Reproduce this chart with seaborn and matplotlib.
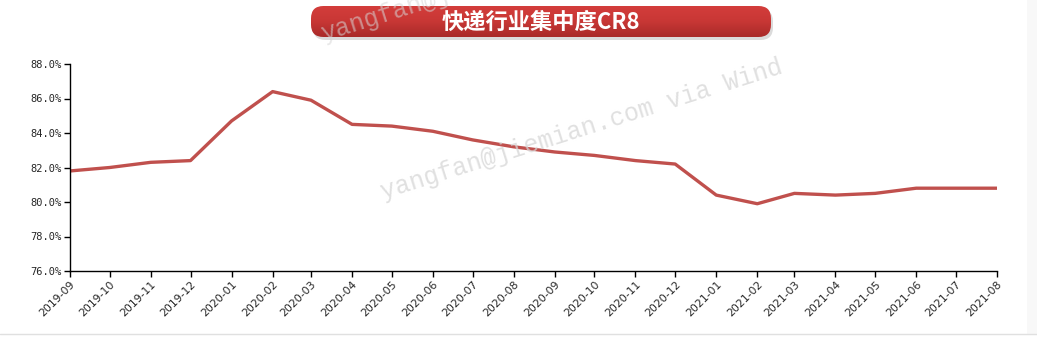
import numpy as np
import pandas as pd
import matplotlib
matplotlib.use("Agg")
import matplotlib.pyplot as plt
import matplotlib.dates as mdates
from matplotlib.patches import FancyBboxPatch, Rectangle
from matplotlib.ticker import FuncFormatter
from matplotlib.colors import LinearSegmentedColormap
import seaborn as sns

# ---- data ----
months = ["2019-09", "2019-10", "2019-11", "2019-12", "2020-01", "2020-02",
          "2020-03", "2020-04", "2020-05", "2020-06", "2020-07", "2020-08",
          "2020-09", "2020-10", "2020-11", "2020-12", "2021-01", "2021-02",
          "2021-03", "2021-04", "2021-05", "2021-06", "2021-07", "2021-08"]
cr8 = [81.8, 82.0, 82.3, 82.4, 84.7, 86.4,
       85.9, 84.5, 84.4, 84.1, 83.6, 83.2,
       82.9, 82.7, 82.4, 82.2, 80.4, 79.9,
       80.5, 80.4, 80.5, 80.8, 80.8, 80.8]
title = "快递行业集中度CR8"
watermark = "yangfan@jiemian.com via Wind"
watermark_top = "yangfan@ji"

df = pd.DataFrame({"month": pd.to_datetime(months, format="%Y-%m"), "cr8": cr8})

sns.set_theme(style="white")
plt.rcParams["font.family"] = ["Noto Sans CJK SC", "DejaVu Sans"]

W, H = 1037, 337
fig = plt.figure(figsize=(W / 100, H / 100), dpi=100)
fig.patch.set_facecolor("white")

def fx(px):
    return px / W

def fy(py):
    return 1 - py / H

# light frame details
fig.add_artist(Rectangle((fx(1027), fy(334)), fx(10), 1 - fy(334), transform=fig.transFigure,
                         facecolor="#f8f8f8", edgecolor="none", zorder=0))
fig.add_artist(plt.Line2D([0, 1], [fy(334), fy(334)], transform=fig.transFigure,
                          color="#e0e0e0", lw=1, zorder=1))

ax = fig.add_axes([fx(70), fy(271), fx(997 - 70), (271 - 64) / H])
sns.lineplot(data=df, x="month", y="cr8", ax=ax, color="#c0504d", linewidth=2.4,
             solid_joinstyle="round", solid_capstyle="butt")

ax.set_ylim(76, 88)
ax.set_yticks(np.arange(76, 88.1, 2))
ax.yaxis.set_major_formatter(FuncFormatter(lambda v, p: f"{v:.1f}%"))
ax.set_xlim(df["month"].iloc[0], df["month"].iloc[-1])
ax.xaxis.set_major_locator(mdates.MonthLocator())
ax.xaxis.set_major_formatter(mdates.DateFormatter("%Y-%m"))
ax.set_xlabel("")
ax.set_ylabel("")
for s in ["top", "right"]:
    ax.spines[s].set_visible(False)
for s in ["left", "bottom"]:
    ax.spines[s].set_color("black")
    ax.spines[s].set_linewidth(1.0)
ax.tick_params(axis="both", which="major", direction="out", length=4, width=1,
               color="black", labelsize=7.5, pad=2, left=True, bottom=True)
for lab in ax.get_yticklabels():
    lab.set_family("DejaVu Sans Mono")
    lab.set_fontsize(7.5)
for lab in ax.get_xticklabels():
    lab.set_family("DejaVu Sans")
    lab.set_fontsize(7.8)
    lab.set_rotation(45)
    lab.set_ha("right")
    lab.set_rotation_mode("anchor")
ax.patch.set_alpha(0)

# ---- title box with shadow and gradient ----
bx0, bx1, by0, by1 = 311, 771, 6, 37
shadow = FancyBboxPatch((fx(bx0 + 2), fy(by1 + 3)), fx(bx1 - bx0), (by1 - by0) / H,
                        boxstyle="round,pad=0,rounding_size=0.012",
                        transform=fig.transFigure, facecolor="#c4c4c4", edgecolor="none",
                        alpha=0.6, zorder=5, mutation_aspect=W / H)
fig.add_artist(shadow)
box = FancyBboxPatch((fx(bx0), fy(by1)), fx(bx1 - bx0), (by1 - by0) / H,
                     boxstyle="round,pad=0,rounding_size=0.012",
                     transform=fig.transFigure, facecolor="none", edgecolor="none",
                     zorder=6, mutation_aspect=W / H)
fig.add_artist(box)
gax = fig.add_axes([fx(bx0), fy(by1), fx(bx1 - bx0), (by1 - by0) / H], zorder=6)
grad = np.linspace(0, 1, 64).reshape(-1, 1)
cmap = LinearSegmentedColormap.from_list("g", ["#d33d3b", "#c83735", "#a92a29"])
im = gax.imshow(grad, aspect="auto", cmap=cmap, extent=[0, 1, 0, 1], origin="upper")
im.set_clip_path(box)
gax.set_axis_off()
fig.text(fx(541), fy(22), title, color="white", fontsize=16, fontweight="bold",
         ha="center", va="center", zorder=10,
         family=["Noto Sans CJK SC", "DejaVu Sans"])

# ---- watermarks ----
fig.text(fx(378), fy(199), watermark, color="#d6d6d6", alpha=0.75, fontsize=18,
         family="Liberation Mono", rotation=17.5, ha="left", va="baseline", zorder=20)
fig.text(fx(318), fy(41), watermark_top, color="#d6d6d6", alpha=0.55, fontsize=18,
         family="Liberation Mono", rotation=17.5, ha="left", va="baseline", zorder=20,
         clip_on=False)

fig.savefig("out.png", dpi=100, facecolor="white")
